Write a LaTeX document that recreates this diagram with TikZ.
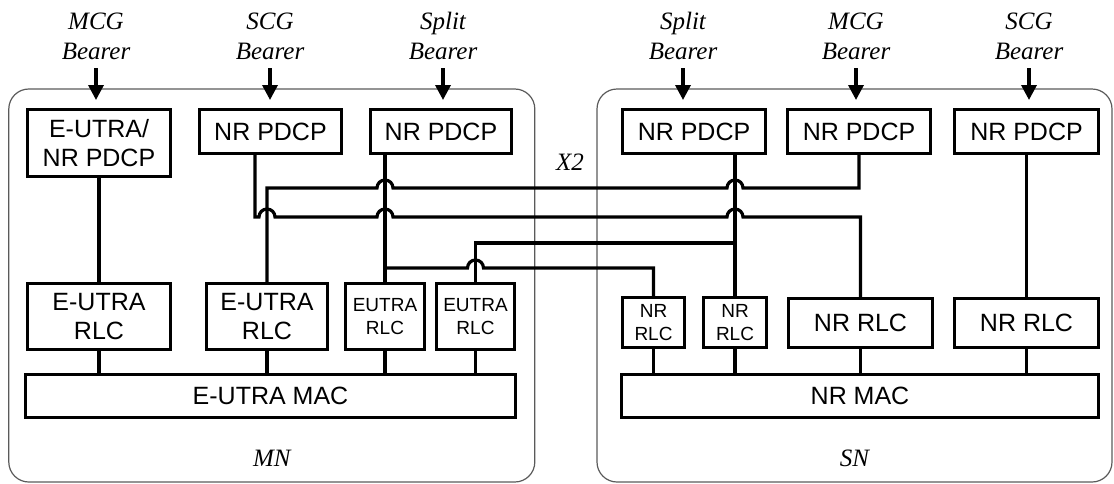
\documentclass[tikz,border=0pt]{standalone}
\usepackage{fontspec}
\setmainfont{Liberation Serif}
\newfontfamily\boxfont{Liberation Sans}
\usetikzlibrary{positioning}
\usetikzlibrary{arrows.meta}
\usetikzlibrary{calc}
\definecolor{framegray}{HTML}{5A5A5A}
\tikzset{
  % A protocol layer box (PDCP / RLC / MAC)
  proto/.style={
    draw=black, line width=3.4pt, fill=white, rectangle, align=center,
    font=\boxfont\fontsize{25}{29}\selectfont, inner sep=0pt, minimum width=#1},
  % The narrow RLC boxes with the smaller text
  smallproto/.style={proto=#1, font=\boxfont\fontsize{19}{23}\selectfont},
  % The MN / SN node frame
  nodeframe/.style={
    draw=framegray, line width=1.2pt, rounded corners=20pt, rectangle, inner sep=0pt},
  % Italic labels
  bearer/.style={font=\itshape\fontsize{25}{30}\selectfont, align=center, inner sep=0pt, anchor=south},
  tag/.style={font=\itshape\fontsize{25}{30}\selectfont, inner sep=0pt},
  % Relationships
  feed/.style={-{Triangle[length=15pt,width=15pt]}, line width=3.4pt, shorten <=8pt},
  link/.style={line width=3.2pt},
}

\begin{document}
\begin{tikzpicture}[x=1pt,y=1pt]
\useasboundingbox (0,0) rectangle (1114,-483);

% the two nodes
\node[nodeframe, minimum width=526pt, minimum height=393pt] (mn) at (271.8,-285.5) {};
\node[nodeframe, minimum width=515pt, minimum height=393pt] (sn) at (854.5,-285.5) {};
\node[tag, above=16pt of mn.south] (mnlbl) {MN};
\node[tag, above=16pt of sn.south] (snlbl) {SN};
\node[tag] (x2lbl) at (570,-162) {X2};

% MN layers
\node[proto=143pt, minimum height=67pt] (mcgpdcp) at (99,-143) {E-UTRA/\\NR PDCP};
\node[proto=142pt, minimum height=44pt] (scgpdcp) at (270.5,-131.5) {NR PDCP};
\node[proto=141pt, minimum height=44pt] (splitpdcp) at (441,-131.5) {NR PDCP};
\node[proto=143pt, minimum height=66pt] (rlc1) at (99,-316.5) {E-UTRA\\RLC};
\node[proto=121pt, minimum height=66pt] (rlc2) at (267,-316.5) {E-UTRA\\RLC};
\node[smallproto=79pt, minimum height=66pt] (rlc3) at (385,-316.5) {EUTRA\\RLC};
\node[smallproto=78pt, minimum height=66pt] (rlc4) at (475.5,-316.5) {EUTRA\\RLC};
\node[proto=490pt, minimum height=43pt] (mac) at (270.5,-396) {E-UTRA MAC};

% SN layers
\node[proto=143pt, minimum height=44pt] (splitpdcpsn) at (694,-131.5) {NR PDCP};
\node[proto=143pt, minimum height=44pt] (mcgpdcpsn) at (859,-131.5) {NR PDCP};
\node[proto=144pt, minimum height=44pt] (scgpdcpsn) at (1026.5,-131.5) {NR PDCP};
\node[smallproto=62pt, minimum height=50pt] (nrrlc1) at (653.5,-322.5) {NR\\RLC};
\node[smallproto=63pt, minimum height=50pt] (nrrlc2) at (735,-322.5) {NR\\RLC};
\node[proto=144pt, minimum height=49pt] (nrrlc3) at (860.5,-323) {NR RLC};
\node[proto=144pt, minimum height=49pt] (nrrlc4) at (1026.5,-323) {NR RLC};
\node[proto=477pt, minimum height=43pt] (nrmac) at (860,-396) {NR MAC};

% bearers
\node[bearer] (mcglbl) at (96,-60) {MCG\\Bearer};
\node[bearer] (scglbl) at (270,-60) {SCG\\Bearer};
\node[bearer] (splitlbl) at (443,-60) {Split\\Bearer};
\node[bearer] (splitlblsn) at (683,-60) {Split\\Bearer};
\node[bearer] (mcglblsn) at (856,-60) {MCG\\Bearer};
\node[bearer] (scglblsn) at (1029,-60) {SCG\\Bearer};
\foreach \b in {mcglbl,scglbl,splitlbl,splitlblsn,mcglblsn,scglblsn}
  \draw[feed] (\b.south) -- (\b.south |- 0,-100);

% RLC to MAC
\foreach \r in {rlc1,rlc2,rlc3,rlc4}
  \draw[link] (\r.south) -- (\r.south |- mac.north);
\foreach \r in {nrrlc1,nrrlc2,nrrlc3,nrrlc4}
  \draw[link] (\r.south) -- (\r.south |- nrmac.north);

% PDCP to RLC, local
\draw[link] (mcgpdcp.south) -- (rlc1.north);
\draw[link] (scgpdcpsn.south) -- (nrrlc4.north);
\draw[link] (rlc3.north |- splitpdcp.south) -- (rlc3.north);
\draw[link] (nrrlc2.north |- splitpdcpsn.south) -- (nrrlc2.north);

% over X2
\draw[link] (mcgpdcpsn.south) |- (743,-188) arc[start angle=0, end angle=180, radius=8]
  -- (393,-188) arc[start angle=0, end angle=180, radius=8]
  -- (rlc2.north |- 0,-188) -- (rlc2.north);
\draw[link] ($(scgpdcp.south)+(-15.5,0)$) |- (259,-217) arc[start angle=180, end angle=0, radius=8]
  -- (377,-217) arc[start angle=180, end angle=0, radius=8]
  -- (727,-217) arc[start angle=180, end angle=0, radius=8]
  -- (nrrlc3.north |- 0,-217) -- (nrrlc3.north);
\draw[link] (nrrlc2.north |- 0,-243) -| (rlc4.north);
\draw[link] (rlc3.north |- 0,-268) -- (467.5,-268) arc[start angle=180, end angle=0, radius=8]
  -| (nrrlc1.north);

\end{tikzpicture}
\end{document}
